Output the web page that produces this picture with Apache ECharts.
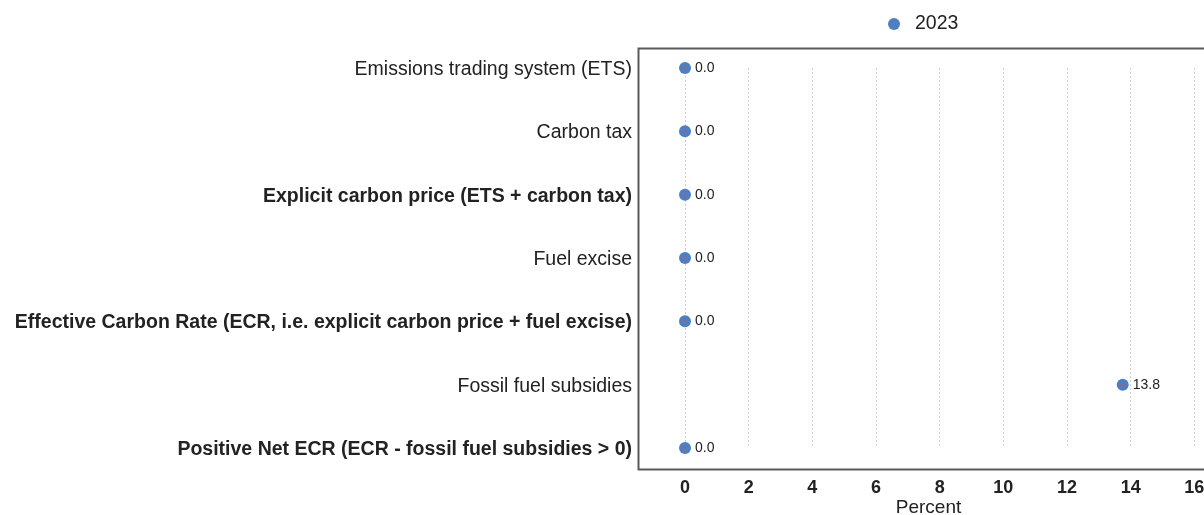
<!DOCTYPE html>
<html>
<head>
<meta charset="utf-8">
<script src="https://cdn.jsdelivr.net/npm/echarts@6/dist/echarts.min.js"></script>
<style>html,body{margin:0;padding:0;background:#fff}#c{width:1204px;height:515px}</style>
</head>
<body>
<div id="c"></div>
<script>
const categories = [
  "Emissions trading system (ETS)",
  "Carbon tax",
  "Explicit carbon price (ETS + carbon tax)",
  "Fuel excise",
  "Effective Carbon Rate (ECR, i.e. explicit carbon price + fuel excise)",
  "Fossil fuel subsidies",
  "Positive Net ECR (ECR - fossil fuel subsidies > 0)"
];
const boldCategories = [
  "Explicit carbon price (ETS + carbon tax)",
  "Effective Carbon Rate (ECR, i.e. explicit carbon price + fuel excise)",
  "Positive Net ECR (ECR - fossil fuel subsidies > 0)"
];
const values2023 = [0.0, 0.0, 0.0, 0.0, 0.0, 13.75, 0.0];
const xTicks = { min: 0, max: 18, interval: 2 };
const seriesName = "2023";

const chart = echarts.init(document.getElementById('c'), null, {renderer: 'canvas'});
const FONT = '"Liberation Sans", Arial, sans-serif';
chart.setOption({
  animation: false,
  backgroundColor: '#ffffff',
  legend: {
    data: [seriesName],
    left: 883, top: 9,
    itemWidth: 32, itemHeight: 12, itemGap: 10,
    icon: 'circle',
    textStyle: {fontFamily: FONT, fontSize: 19.5, color: '#222'}
  },
  grid: { left: 685, top: 68, width: 573, height: 380, outerBoundsMode: 'none', containLabel: false },
  xAxis: {
    type: 'value',
    min: xTicks.min, max: xTicks.max, interval: xTicks.interval,
    name: 'Percent', nameLocation: 'middle', nameGap: 50, nameMoveOverlap: false,
    nameTextStyle: {fontFamily: FONT, fontSize: 19, color: '#222', padding: [0, 86, 0, 0]},
    axisLine: {show: false}, axisTick: {show: false},
    axisLabel: {margin: 31, fontFamily: FONT, fontSize: 18, fontWeight: 'bold', color: '#222'},
    splitLine: {show: true, lineStyle: {color: '#cfcfcf', type: [2, 2], width: 1}}
  },
  yAxis: {
    type: 'category', data: categories, inverse: true, boundaryGap: false,
    axisLine: {show: false}, axisTick: {show: false}, splitLine: {show: false},
    axisLabel: {
      margin: 53, fontFamily: FONT, fontSize: 19.5, color: '#222',
      formatter: function (v) { return boldCategories.indexOf(v) >= 0 ? '{b|' + v + '}' : '{n|' + v + '}'; },
      rich: {
        b: {fontFamily: FONT, fontSize: 19.5, fontWeight: 'bold', color: '#222', padding: [3, 0, 0, 0]},
        n: {fontFamily: FONT, fontSize: 19.5, color: '#222', padding: [3, 0, 0, 0]}
      }
    }
  },
  graphic: [{
    type: 'rect', left: 636, top: 46, silent: true, z: 0,
    shape: {width: 620, height: 421},
    style: {fill: 'none', stroke: '#5a5a5a', lineWidth: 2}
  }],
  series: [{
    name: seriesName, type: 'scatter', data: values2023,
    symbol: 'circle', symbolSize: 12,
    itemStyle: {color: '#4f7fc0', opacity: 1},
    label: {show: true, position: 'right', distance: 4,
      formatter: function (p) { return p.value.toFixed(1); },
      fontFamily: FONT, fontSize: 14, color: '#222'},
    z: 3
  }, {
    name: 'center', type: 'scatter', data: values2023,
    symbol: 'circle', symbolSize: 2, silent: true,
    itemStyle: {color: '#d0504a', opacity: 1}, z: 4
  }]
});
</script>
</body>
</html>
